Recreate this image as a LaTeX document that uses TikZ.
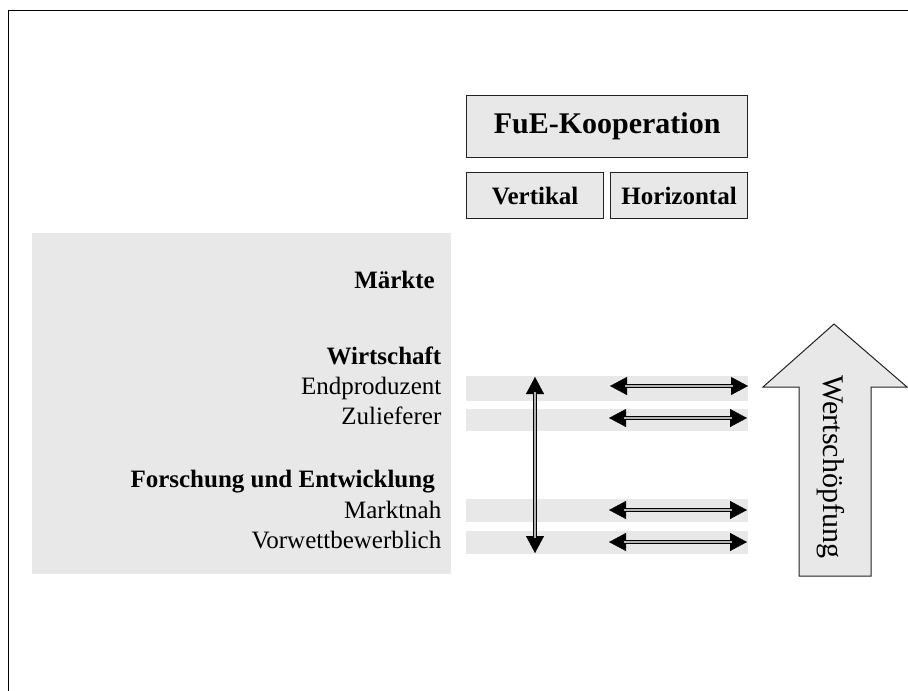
\documentclass[tikz,border=0pt]{standalone}
\usepackage{fontspec}
\setmainfont{Liberation Serif}
\usetikzlibrary{arrows.meta}
\definecolor{panel}{HTML}{E8E8E8}
\definecolor{edge}{HTML}{222222}
\begin{document}
\begin{tikzpicture}[x=1pt,y=-1pt,
  txt/.style={font=\fontsize{25}{30}\selectfont, inner sep=0pt},
  btxt/.style={font=\fontsize{25}{30}\selectfont\bfseries, inner sep=0pt},
  boxed/.style={draw=edge, line width=1.2pt, fill=panel},
  band/.style={fill=panel},
  biarrow/.style={{Triangle[length=17pt,width=18pt]}-{Triangle[length=17pt,width=18pt]}},
  dbl/.style={draw=black, line width=1.2pt, double=gray!60, double distance=1.4pt}
]
\useasboundingbox (0,0) rectangle (908,691);

% frame lines
\draw[line width=1.5pt] (8.5,691) -- (8.5,10.5) -- (908,10.5);

% left panel
\fill[panel] (32,233) rectangle (451,574);

% cooperation header boxes
\node[boxed, minimum width=281pt, minimum height=62pt, inner sep=0pt, anchor=north west,
  font=\fontsize{30}{36}\selectfont\bfseries] (fue) at (466,95) {FuE-Kooperation};
\node[boxed, minimum width=137pt, minimum height=46pt, inner sep=0pt, anchor=north west,
  btxt] (vert) at (466,172) {Vertikal};
\node[boxed, minimum width=137pt, minimum height=46pt, inner sep=0pt, anchor=north west,
  btxt] (hor) at (610,172) {Horizontal};

% labels
\node[btxt, anchor=base east] (mk) at (435,288) {Märkte};
\node[btxt, anchor=base east] (wi) at (441.5,364) {Wirtschaft};
\node[txt, anchor=base east] (ep) at (441.5,394) {Endproduzent};
\node[txt, anchor=base east] (zl) at (441.5,424) {Zulieferer};
\node[btxt, anchor=base east] (fe) at (435,487) {Forschung und Entwicklung};
\node[txt, anchor=base east] (mn) at (441.5,518) {Marktnah};
\node[txt, anchor=base east] (vw) at (441.5,548) {Vorwettbewerblich};

% bands
\fill[band] (466,376) rectangle (748,401);
\fill[band] (466,409) rectangle (748,431);
\fill[band] (466,499) rectangle (748,522);
\fill[band] (466,531) rectangle (748,554);

% arrow end points
\coordinate (vt) at (535,377);
\coordinate (vb) at (535,553);
\coordinate (h1l) at (610,386); \coordinate (h1r) at (748,386);
\coordinate (h2l) at (609,418); \coordinate (h2r) at (747,418);
\coordinate (h3l) at (609,510); \coordinate (h3r) at (747,510);
\coordinate (h4l) at (609,542); \coordinate (h4r) at (747,542);

% solid tips at the end points, double shaft laid between them
\foreach \a/\b in {vt/vb,h1l/h1r,h2l/h2r,h3l/h3r,h4l/h4r}{
  \draw[line width=0.4pt, biarrow] (\a) -- (\b);
  \draw[dbl, shorten <=15pt, shorten >=15pt] (\a) -- (\b);
}

% value-added block arrow
\draw[draw=edge, line width=1pt, fill=panel]
  (834,324) -- (907,387) -- (871,387) -- (871,576) -- (799,576) -- (799,387) -- (763,387) -- cycle;
\node[font=\fontsize{30}{36}\selectfont, rotate=-90, inner sep=0pt] (ws) at (831,467) {Wertschöpfung};
\end{tikzpicture}
\end{document}
